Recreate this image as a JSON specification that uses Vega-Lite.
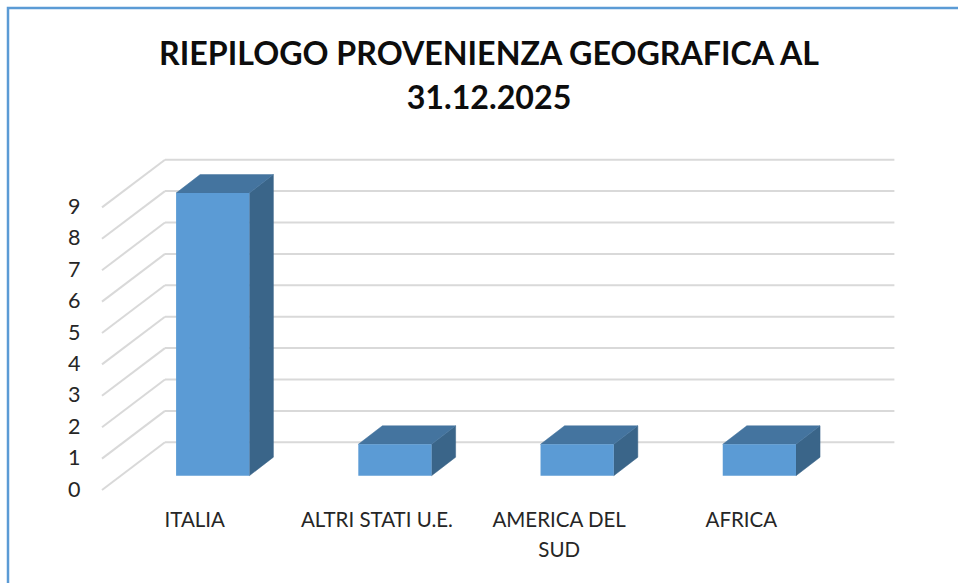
{
"$schema":"https://vega.github.io/schema/vega-lite/v6.json",
"width":960,"height":585,
"autosize":"none",
"padding":{"left":8,"top":8,"right":0,"bottom":0},
"background":"white",
"view":{"stroke":"#5B9BD5","strokeWidth":2.5,"fill":"white"},
"title":{"text":["RIEPILOGO PROVENIENZA GEOGRAFICA AL","31.12.2025"],"anchor":"middle","frame":"group","orient":"top","offset":-108,"dx":1,"font":"Lato","fontSize":32.2,"fontWeight":"bold","color":"#0D0D0D","lineHeight":44},
"datasets":{
"bars":[
{"category":"ITALIA","label":"ITALIA","order":0,"value":9},
{"category":"ALTRI STATI U.E.","label":"ALTRI STATI U.E.","order":1,"value":1},
{"category":"AMERICA DEL SUD","label":"AMERICA DEL\nSUD","order":2,"value":1},
{"category":"AFRICA","label":"AFRICA","order":3,"value":1}
],
"levels":[{"level":0},{"level":1},{"level":2},{"level":3},{"level":4},{"level":5},{"level":6},{"level":7},{"level":8},{"level":9}]
},
"layer":[
{"data":{"name":"levels"},
 "transform":[{"calculate":"datum.level+1.519","as":"wall"}],
 "mark":{"type":"rule","stroke":"#D9D9D9","strokeWidth":2},
 "encoding":{
  "x":{"datum":-0.262,"type":"quantitative","scale":{"domain":[-1.1235,4.145],"nice":false,"zero":false},"axis":null},
  "x2":{"datum":3.741},
  "y":{"field":"wall","type":"quantitative","scale":{"domain":[-3.28,15.35],"nice":false,"zero":false},"axis":{"title":null,"values":[0,1,2,3,4,5,6,7,8,9],"format":"d","domain":false,"ticks":false,"grid":false,"offset":-94,"labelPadding":22,"labelFont":"Lato","labelFontSize":21.5,"labelColor":"#262626"}}
 }},
{"data":{"name":"levels"},
 "transform":[{"calculate":"datum.level+1.519","as":"wall"}],
 "mark":{"type":"rule","stroke":"#D9D9D9","strokeWidth":2},
 "encoding":{
  "x":{"datum":-0.6076,"type":"quantitative"},
  "x2":{"datum":-0.262},
  "y":{"field":"level","type":"quantitative"},
  "y2":{"field":"wall"}
 }},
{"data":{"name":"bars"},
 "transform":[{"calculate":"[0,1]","as":"t"},{"flatten":["t"]},
  {"calculate":"datum.order+0.201+datum.t*0.132","as":"sx"},
  {"calculate":"0.455+datum.t*0.59","as":"sy0"},
  {"calculate":"datum.value+0.455+datum.t*0.59","as":"sy1"}],
 "mark":{"type":"area","fill":"#3A6589","stroke":"#3A6589","strokeWidth":0.5},
 "encoding":{
  "x":{"field":"sx","type":"quantitative"},
  "y":{"field":"sy0","type":"quantitative"},
  "y2":{"field":"sy1"},
  "detail":{"field":"category"}
 }},
{"data":{"name":"bars"},
 "transform":[{"calculate":"[0,1]","as":"t"},{"flatten":["t"]},
  {"calculate":"datum.order-0.201+datum.t*0.132","as":"tx0"},
  {"calculate":"datum.order+0.201+datum.t*0.132","as":"tx1"},
  {"calculate":"datum.value+0.455+datum.t*0.59","as":"ty"}],
 "mark":{"type":"area","orient":"horizontal","fill":"#44749F","stroke":"#44749F","strokeWidth":0.5},
 "encoding":{
  "y":{"field":"ty","type":"quantitative"},
  "x":{"field":"tx0","type":"quantitative"},
  "x2":{"field":"tx1"},
  "detail":{"field":"category"}
 }},
{"data":{"name":"bars"},
 "transform":[
  {"calculate":"datum.order-0.201","as":"x0"},
  {"calculate":"datum.order+0.201","as":"x1"},
  {"calculate":"0.455","as":"y0"},
  {"calculate":"datum.value+0.455","as":"y1"}],
 "mark":{"type":"rect","fill":"#5B9BD5"},
 "encoding":{
  "x":{"field":"x0","type":"quantitative"},
  "x2":{"field":"x1"},
  "y":{"field":"y0","type":"quantitative"},
  "y2":{"field":"y1"}
 }},
{"data":{"name":"bars"},
 "mark":{"type":"text","font":"Lato","fontSize":20.5,"color":"#262626","align":"center","baseline":"alphabetic","dx":-18,"lineBreak":"\n","lineHeight":30},
 "encoding":{
  "x":{"field":"order","type":"quantitative"},
  "y":{"datum":-1.18,"type":"quantitative"},
  "text":{"field":"label"}
 }}
]
}
